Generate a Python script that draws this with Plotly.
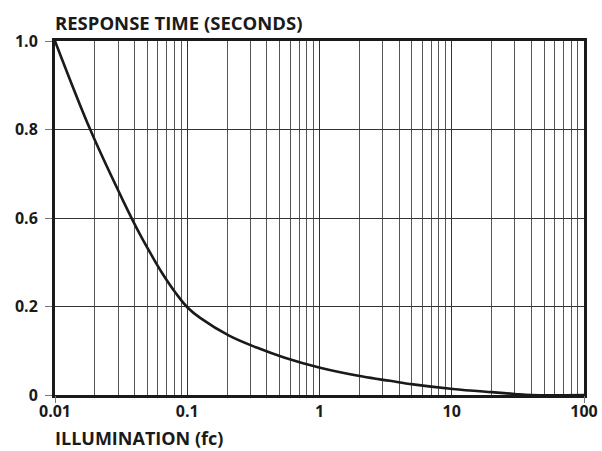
import plotly.graph_objects as go

# Illumination (fc) and plotted response position (fraction of axis height; ticks below map it to the printed labels)
illum = [0.01, 0.0185, 0.0331, 0.0437, 0.0537, 0.0647, 0.0826, 0.1,
         0.126, 0.209, 0.335, 0.539, 1.01, 2.12, 3.41, 5.09, 10.2, 20, 30, 40, 100]
response_pos = [1.0, 0.749, 0.545, 0.455, 0.395, 0.344, 0.286, 0.248,
                0.217, 0.167, 0.134, 0.106, 0.077, 0.052, 0.040, 0.030, 0.017, 0.008, 0.003, 0.0, 0.0]

y_tick_vals = [0, 0.25, 0.5, 0.75, 1.0]
y_tick_text = ["0", "0.2", "0.6", "0.8", "1.0"]
x_tick_vals = [0.01, 0.1, 1, 10, 100]
x_tick_text = ["0.01", "0.1", "1", "10", "100"]
x_minor_vals = [m * d for d in [0.01, 0.1, 1, 10] for m in range(2, 10)]

FONT = "Open Sans"
fig = go.Figure()
fig.add_trace(go.Scatter(x=illum, y=response_pos, mode="lines",
                         line=dict(color="#1a1a1a", width=2.6, shape="spline", smoothing=1.0),
                         showlegend=False, hoverinfo="skip"))
# invisible trace on overlay axis for the end tick marks
fig.add_trace(go.Scatter(x=[0.01, 100], y=[0, 0], xaxis="x2", mode="markers",
                         marker=dict(opacity=0), showlegend=False, hoverinfo="skip"))

fig.update_layout(
    width=602, height=451,
    margin=dict(l=55, r=18, t=41, b=56),
    paper_bgcolor="white", plot_bgcolor="white",
    font=dict(family=FONT, color="#1a1a1a", size=16, weight=700),
    xaxis=dict(type="log", range=[-2, 2], tickvals=x_tick_vals, ticktext=x_tick_text,
               showgrid=True, gridcolor="#333", gridwidth=1, ticks="",
               showline=True, linecolor="#1a1a1a", linewidth=3, mirror=True,
               minor=dict(tickvals=x_minor_vals, showgrid=True, gridcolor="#555", gridwidth=1, ticks=""),
               tickfont=dict(size=16, family=FONT, weight=700), zeroline=False, automargin=False),
    xaxis2=dict(type="log", range=[-2, 2], overlaying="x", side="bottom", tickvals=[0.01, 100],
                showticklabels=False, ticks="outside", ticklen=7, tickcolor="#777", tickwidth=1,
                showgrid=False, showline=False, automargin=False),
    yaxis=dict(range=[0, 1], tickvals=y_tick_vals, ticktext=y_tick_text,
               showgrid=True, gridcolor="#333", gridwidth=1,
               ticks="outside", ticklen=7, tickcolor="#777", tickwidth=1, ticklabelstandoff=4,
               showline=True, linecolor="#1a1a1a", linewidth=3, mirror=True,
               tickfont=dict(size=16, family=FONT, weight=700), zeroline=False, automargin=False),
    annotations=[
        dict(text="RESPONSE TIME (SECONDS)", xref="paper", yref="paper", x=0, y=1,
             xanchor="left", yanchor="bottom", yshift=4, xshift=-2, showarrow=False,
             font=dict(size=18.5, family=FONT, weight=700, color="#1a1a1a")),
        dict(text="ILLUMINATION (fc)", xref="paper", yref="paper", x=0, y=0,
             xanchor="left", yanchor="top", yshift=-29, xshift=-2, showarrow=False,
             font=dict(size=18, family=FONT, weight=700, color="#1a1a1a")),
    ],
)
fig.write_html("out.html", config={"displayModeBar": False},
               post_script="document.body.style.margin='0';document.body.style.padding='0';document.body.style.overflow='hidden';")
